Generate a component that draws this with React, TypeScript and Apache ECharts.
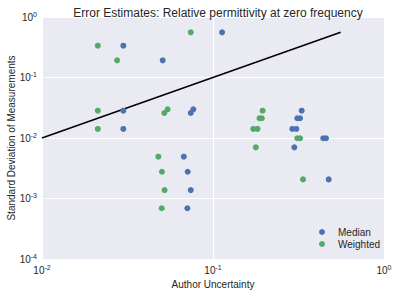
import React, { useEffect, useRef } from "react";
import * as echarts from "echarts";

const medianX = [0.0299, 0.0508, 0.0299, 0.0299, 0.0741, 0.0767, 0.113, 0.33, 0.311, 0.323, 0.291, 0.307, 0.441, 0.458, 0.299, 0.0675, 0.0711, 0.0741, 0.0708, 0.475];
const medianY = [0.336, 0.192, 0.0283, 0.0141, 0.0259, 0.0298, 0.558, 0.0283, 0.0212, 0.0212, 0.0141, 0.0141, 0.0099, 0.0099, 0.007, 0.00491, 0.00277, 0.00138, 0.00069, 0.00207];
const weightedX = [0.0212, 0.0275, 0.0741, 0.0212, 0.0212, 0.0519, 0.0543, 0.195, 0.187, 0.193, 0.172, 0.182, 0.178, 0.311, 0.323, 0.0479, 0.0503, 0.0521, 0.0501, 0.336];
const weightedY = [0.336, 0.192, 0.558, 0.0283, 0.0141, 0.0259, 0.0298, 0.0283, 0.0212, 0.0212, 0.0141, 0.0141, 0.007, 0.0099, 0.0099, 0.00491, 0.00277, 0.00138, 0.00069, 0.00207];
const lineX = [0.01, 0.558];
const lineY = [0.01, 0.558];

const FONT = "Liberation Sans, Arial, sans-serif";

function expLabel(v: number) {
  const e = Math.round(Math.log10(v));
  return `{b|10}{s|${e}}`;
}

const richTick = {
  b: { fontSize: 10, color: "#262626", fontFamily: FONT },
  s: { fontSize: 7, color: "#262626", fontFamily: FONT, verticalAlign: "top", padding: [0, 0, 6, 0] },
};

export default function App() {
  const ref = useRef<HTMLDivElement>(null);
  useEffect(() => {
    if (!ref.current) return;
    const chart = echarts.init(ref.current, null, { renderer: "svg" });
    chart.setOption({
      animation: false,
      backgroundColor: "#ffffff",
      title: {
        text: "Error Estimates: Relative permittivity at zero frequency",
        left: 213,
        textAlign: "center",
        top: 2,
        textStyle: { fontSize: 12, fontWeight: "normal", color: "#262626", fontFamily: FONT },
      },
      legend: {
        orient: "vertical",
        left: 319,
        top: 227,
        padding: 0,
        itemWidth: 6,
        itemHeight: 6,
        itemGap: 2,
        icon: "circle",
        textStyle: { fontSize: 10, color: "#262626", fontFamily: FONT, padding: [0, 0, 0, 8] },
        data: ["Median", "Weighted"],
      },
      grid: {
        left: 42,
        right: 14,
        top: 17,
        bottom: 36,
        show: true,
        backgroundColor: "#EAEAF2",
        borderWidth: 0,
        containLabel: false,
        outerBoundsMode: "none",
      },
      xAxis: {
        type: "log",
        logBase: 10,
        min: 0.01,
        max: 1,
        name: "Author Uncertainty",
        nameLocation: "middle",
        nameGap: 20,
        nameMoveOverlap: false,
        nameTextStyle: { fontSize: 10, color: "#262626", fontFamily: FONT },
        axisLine: { show: false },
        axisTick: { show: false },
        splitLine: { show: true, lineStyle: { color: "#ffffff", width: 1 } },
        minorTick: { show: false },
        axisLabel: { formatter: expLabel, rich: richTick, margin: 5 },
      },
      yAxis: {
        type: "log",
        logBase: 10,
        min: 0.0001,
        max: 1,
        name: "Standard Deviation of Measurements",
        nameLocation: "middle",
        nameGap: 26,
        nameMoveOverlap: false,
        nameTextStyle: { fontSize: 10, color: "#262626", fontFamily: FONT },
        axisLine: { show: false },
        axisTick: { show: false },
        splitLine: { show: true, lineStyle: { color: "#ffffff", width: 1 } },
        axisLabel: { formatter: expLabel, rich: richTick, margin: 5 },
      },
      series: [
        {
          name: "Line",
          type: "line",
          data: lineX.map((x, i) => [x, lineY[i]]),
          showSymbol: false,
          symbol: "none",
          lineStyle: { color: "#000000", width: 1.5 },
          silent: true,
          z: 3,
        },
        {
          name: "Median",
          type: "scatter",
          data: medianX.map((x, i) => [x, medianY[i]]),
          symbolSize: 6,
          itemStyle: { color: "#4C72B0", opacity: 1 },
          z: 4,
        },
        {
          name: "Weighted",
          type: "scatter",
          data: weightedX.map((x, i) => [x, weightedY[i]]),
          symbolSize: 6,
          itemStyle: { color: "#55A868", opacity: 1 },
          z: 4,
        },
      ],
    });
    return () => chart.dispose();
  }, []);
  return (
    <div
      ref={ref}
      style={{ position: "fixed", left: 0, top: 0, width: 398, height: 295 }}
    />
  );
}
